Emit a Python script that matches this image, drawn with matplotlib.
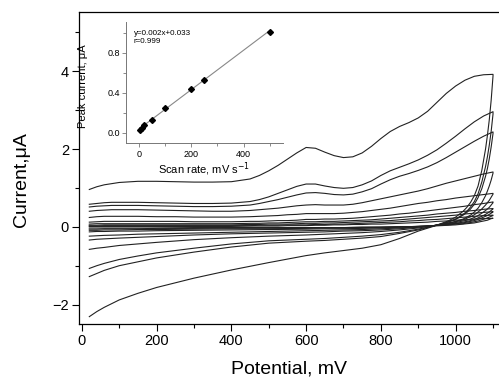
import numpy as np
import matplotlib
matplotlib.use("Agg")
import matplotlib.pyplot as plt
from matplotlib.ticker import MultipleLocator, FormatStrFormatter

plt.rcParams['font.family'] = ['Liberation Sans', 'DejaVu Sans']

# Potential grids (mV)
E_fwd = [20, 40, 60, 80, 100, 150, 200, 250, 300, 350, 400,
         450, 475, 500, 525, 550, 575, 600, 625, 650, 675, 700, 725, 750, 775, 800,
         825, 850, 875, 900, 925, 950, 975, 1000, 1025, 1050, 1075, 1100]
E_rev = [1100, 1095, 1090, 1085, 1080, 1070, 1060, 1050, 1040, 1030, 1020, 1000,
         980, 960, 940, 920, 900, 850, 800, 750, 700, 650, 600, 500, 400, 300,
         200, 150, 100, 60, 40, 20]

# Currents (uA): forward and reverse branch of each voltammogram
i_fwd_1 = [0.96, 1.03, 1.08, 1.11, 1.14, 1.17, 1.17, 1.16, 1.15, 1.15, 1.16,
           1.23, 1.32, 1.44, 1.58, 1.74, 1.90, 2.04, 2.02, 1.92, 1.83, 1.78, 1.80, 1.90, 2.07, 2.27,
           2.45, 2.58, 2.68, 2.80, 2.97, 3.20, 3.43, 3.62, 3.77, 3.87, 3.91, 3.92]
i_rev_1 = [3.88, 3.25, 2.75, 2.35, 2.00, 1.45, 1.05, 0.80, 0.63, 0.50, 0.40, 0.25,
           0.15, 0.08, 0.01, -0.05, -0.11, -0.30, -0.46, -0.55, -0.61, -0.67, -0.74, -0.92, -1.11, -1.32,
           -1.56, -1.71, -1.88, -2.07, -2.18, -2.31]
i_fwd_2 = [0.58, 0.60, 0.62, 0.63, 0.63, 0.63, 0.62, 0.61, 0.60, 0.60, 0.61,
           0.65, 0.70, 0.77, 0.86, 0.95, 1.04, 1.10, 1.10, 1.05, 1.01, 0.99, 1.01, 1.08, 1.18, 1.32,
           1.44, 1.53, 1.62, 1.72, 1.84, 1.98, 2.15, 2.33, 2.52, 2.70, 2.85, 2.96]
i_rev_2 = [2.90, 2.45, 2.10, 1.80, 1.55, 1.15, 0.85, 0.65, 0.51, 0.40, 0.32, 0.20,
           0.13, 0.07, 0.02, -0.03, -0.08, -0.17, -0.25, -0.29, -0.32, -0.35, -0.37, -0.42, -0.52, -0.65,
           -0.80, -0.90, -1.00, -1.12, -1.20, -1.28]
i_fwd_3 = [0.51, 0.53, 0.54, 0.55, 0.55, 0.55, 0.54, 0.53, 0.52, 0.52, 0.53,
           0.56, 0.60, 0.65, 0.70, 0.76, 0.82, 0.87, 0.88, 0.86, 0.83, 0.82, 0.84, 0.90, 0.98, 1.10,
           1.21, 1.30, 1.37, 1.45, 1.54, 1.65, 1.78, 1.92, 2.06, 2.20, 2.33, 2.44]
i_rev_3 = [2.40, 2.05, 1.75, 1.50, 1.30, 0.98, 0.75, 0.58, 0.46, 0.37, 0.30, 0.19,
           0.12, 0.07, 0.02, -0.02, -0.06, -0.14, -0.20, -0.24, -0.27, -0.30, -0.32, -0.36, -0.44, -0.55,
           -0.67, -0.75, -0.84, -0.94, -1.00, -1.07]
i_fwd_4 = [0.40, 0.42, 0.43, 0.44, 0.44, 0.44, 0.43, 0.42, 0.41, 0.40, 0.40,
           0.42, 0.44, 0.46, 0.48, 0.51, 0.54, 0.56, 0.57, 0.56, 0.56, 0.56, 0.58, 0.62, 0.67, 0.72,
           0.77, 0.82, 0.87, 0.92, 0.98, 1.05, 1.12, 1.18, 1.24, 1.30, 1.36, 1.41]
i_rev_4 = [1.38, 1.20, 1.05, 0.92, 0.80, 0.62, 0.48, 0.38, 0.30, 0.25, 0.20, 0.14,
           0.10, 0.06, 0.03, 0.00, -0.03, -0.08, -0.12, -0.15, -0.17, -0.19, -0.21, -0.24, -0.28, -0.33,
           -0.40, -0.44, -0.48, -0.53, -0.55, -0.58]
i_fwd_5 = [0.24, 0.26, 0.27, 0.27, 0.27, 0.27, 0.26, 0.26, 0.25, 0.25, 0.25,
           0.26, 0.27, 0.28, 0.29, 0.31, 0.32, 0.34, 0.34, 0.34, 0.34, 0.35, 0.37, 0.39, 0.42, 0.45,
           0.48, 0.52, 0.56, 0.60, 0.63, 0.67, 0.70, 0.74, 0.77, 0.80, 0.83, 0.86]
i_rev_5 = [0.84, 0.76, 0.68, 0.62, 0.56, 0.46, 0.38, 0.31, 0.26, 0.22, 0.18, 0.13,
           0.09, 0.06, 0.03, 0.01, -0.01, -0.05, -0.08, -0.10, -0.11, -0.13, -0.14, -0.16, -0.18, -0.21,
           -0.25, -0.27, -0.29, -0.31, -0.32, -0.34]
i_fwd_6 = [0.12, 0.13, 0.14, 0.14, 0.14, 0.14, 0.14, 0.14, 0.13, 0.13, 0.13,
           0.14, 0.14, 0.15, 0.16, 0.16, 0.17, 0.19, 0.19, 0.20, 0.20, 0.21, 0.22, 0.24, 0.26, 0.28,
           0.30, 0.33, 0.35, 0.38, 0.41, 0.44, 0.47, 0.50, 0.53, 0.57, 0.60, 0.64]
i_rev_6 = [0.62, 0.56, 0.50, 0.46, 0.42, 0.35, 0.29, 0.24, 0.20, 0.17, 0.15, 0.11,
           0.08, 0.05, 0.03, 0.01, 0.00, -0.03, -0.05, -0.07, -0.08, -0.09, -0.10, -0.12, -0.14, -0.16,
           -0.18, -0.19, -0.21, -0.22, -0.23, -0.24]
i_fwd_7 = [0.07, 0.08, 0.08, 0.08, 0.08, 0.08, 0.08, 0.08, 0.08, 0.08, 0.08,
           0.09, 0.09, 0.10, 0.10, 0.11, 0.12, 0.13, 0.13, 0.14, 0.14, 0.15, 0.16, 0.17, 0.18, 0.20,
           0.22, 0.24, 0.26, 0.28, 0.30, 0.33, 0.35, 0.37, 0.40, 0.42, 0.45, 0.47]
i_rev_7 = [0.46, 0.42, 0.38, 0.35, 0.32, 0.27, 0.23, 0.19, 0.16, 0.14, 0.12, 0.09,
           0.07, 0.05, 0.03, 0.02, 0.01, -0.01, -0.03, -0.04, -0.05, -0.05, -0.06, -0.07, -0.08, -0.09,
           -0.10, -0.11, -0.11, -0.12, -0.12, -0.13]
i_fwd_8 = [0.04, 0.04, 0.05, 0.05, 0.05, 0.05, 0.05, 0.05, 0.05, 0.05, 0.05,
           0.06, 0.06, 0.07, 0.07, 0.07, 0.08, 0.09, 0.09, 0.10, 0.10, 0.11, 0.12, 0.13, 0.14, 0.15,
           0.16, 0.18, 0.20, 0.22, 0.24, 0.26, 0.28, 0.30, 0.33, 0.35, 0.37, 0.39]
i_rev_8 = [0.38, 0.35, 0.32, 0.29, 0.27, 0.23, 0.19, 0.16, 0.14, 0.12, 0.10, 0.08,
           0.06, 0.05, 0.03, 0.02, 0.01, 0.00, -0.01, -0.02, -0.03, -0.03, -0.04, -0.05, -0.05, -0.06,
           -0.07, -0.07, -0.08, -0.08, -0.09, -0.09]
i_fwd_9 = [0.02, 0.02, 0.03, 0.03, 0.03, 0.03, 0.03, 0.03, 0.03, 0.03, 0.03,
           0.03, 0.04, 0.04, 0.04, 0.05, 0.05, 0.05, 0.06, 0.06, 0.07, 0.07, 0.08, 0.09, 0.10, 0.11,
           0.12, 0.13, 0.15, 0.16, 0.18, 0.19, 0.21, 0.23, 0.25, 0.27, 0.29, 0.30]
i_rev_9 = [0.29, 0.27, 0.25, 0.23, 0.21, 0.18, 0.15, 0.13, 0.11, 0.10, 0.08, 0.07,
           0.05, 0.04, 0.03, 0.02, 0.01, 0.00, -0.01, -0.01, -0.02, -0.02, -0.02, -0.03, -0.03, -0.04,
           -0.04, -0.05, -0.05, -0.05, -0.06, -0.06]
i_fwd_10 = [0.01, 0.01, 0.01, 0.01, 0.01, 0.01, 0.01, 0.01, 0.01, 0.01, 0.01,
            0.02, 0.02, 0.02, 0.02, 0.03, 0.03, 0.03, 0.04, 0.04, 0.05, 0.05, 0.06, 0.06, 0.07, 0.07,
            0.08, 0.09, 0.10, 0.11, 0.12, 0.14, 0.15, 0.17, 0.18, 0.20, 0.21, 0.22]
i_rev_10 = [0.22, 0.21, 0.19, 0.17, 0.16, 0.14, 0.12, 0.10, 0.09, 0.08, 0.07, 0.05,
            0.04, 0.03, 0.02, 0.01, 0.01, 0.00, -0.01, -0.01, -0.02, -0.02, -0.02, -0.02, -0.02, -0.02,
            -0.03, -0.03, -0.03, -0.03, -0.03, -0.03]

curves = [(i_fwd_1, i_rev_1), (i_fwd_2, i_rev_2), (i_fwd_3, i_rev_3), (i_fwd_4, i_rev_4),
          (i_fwd_5, i_rev_5), (i_fwd_6, i_rev_6), (i_fwd_7, i_rev_7), (i_fwd_8, i_rev_8),
          (i_fwd_9, i_rev_9), (i_fwd_10, i_rev_10)]

# Inset: peak current vs scan rate
scan_rate = [5, 10, 20, 50, 100, 200, 250, 500]
peak_current = [0.03, 0.05, 0.075, 0.13, 0.25, 0.44, 0.53, 1.01]
fit_text = "y=0.002x+0.033\nr=0.999"

fig = plt.figure(figsize=(4.99, 3.79), dpi=100)
ax = fig.add_axes([0.158, 0.145, 1.0 - 0.158, 0.968 - 0.145])

for fwd, rev in curves:
    ax.plot(E_fwd + E_rev, fwd + rev, color='#222222', lw=0.8)

ax.set_xlim(-8, 1116)
ax.set_ylim(-2.5, 5.52)
ax.xaxis.set_major_locator(MultipleLocator(200))
ax.xaxis.set_minor_locator(MultipleLocator(100))
ax.yaxis.set_major_locator(MultipleLocator(2))
ax.yaxis.set_minor_locator(MultipleLocator(1))
ax.tick_params(which='major', direction='out', length=5, width=0.8, labelsize=10.5, pad=2)
ax.tick_params(which='minor', direction='out', length=3, width=0.8)
ax.spines['right'].set_visible(False)
for s in ['top', 'left', 'bottom']:
    ax.spines[s].set_linewidth(0.9)
ax.set_xlabel("Potential, mV", fontsize=14, labelpad=9)
ax.set_ylabel("Current,\u03bcA", fontsize=14)
ax.yaxis.set_label_coords(-0.117, 0.462)

# Inset
ins = fig.add_axes([126 / 499, 1 - 143.3 / 379, (282.7 - 126) / 499, (143.3 - 21.7) / 379])
ins.patch.set_alpha(0)
coef = np.polyfit(scan_rate, peak_current, 1)
xs = np.array([0, max(scan_rate)])
ins.plot(xs, np.polyval(coef, xs), color='#888888', lw=0.8)
ins.plot(scan_rate, peak_current, 'D', color='black', ms=3)
ins.set_xlim(-50, 550)
ins.set_ylim(-0.108, 1.108)
ins.xaxis.set_major_locator(MultipleLocator(200))
ins.xaxis.set_minor_locator(MultipleLocator(100))
ins.yaxis.set_major_locator(MultipleLocator(0.4))
ins.yaxis.set_minor_locator(MultipleLocator(0.2))
ins.yaxis.set_major_formatter(FormatStrFormatter('%.1f'))
ins.tick_params(which='major', direction='out', length=3, width=0.6, labelsize=6.5, pad=1.5,
                color='#777777')
ins.tick_params(which='minor', direction='out', length=2, width=0.6, color='#777777')
for s in ['top', 'right']:
    ins.spines[s].set_visible(False)
for s in ['left', 'bottom']:
    ins.spines[s].set_color('#777777')
    ins.spines[s].set_linewidth(0.7)
ins.set_xlabel("Scan rate, mV s$^{-1}$", fontsize=8, labelpad=1)
ins.set_ylabel("Peak current, \u03bcA", fontsize=8)
ins.yaxis.set_label_coords(-0.24, 0.47)
ins.text(0.05, 0.93, fit_text, transform=ins.transAxes, fontsize=5.8, va='top', ha='left',
         linespacing=1.2)

fig.savefig("out.png", dpi=100)
